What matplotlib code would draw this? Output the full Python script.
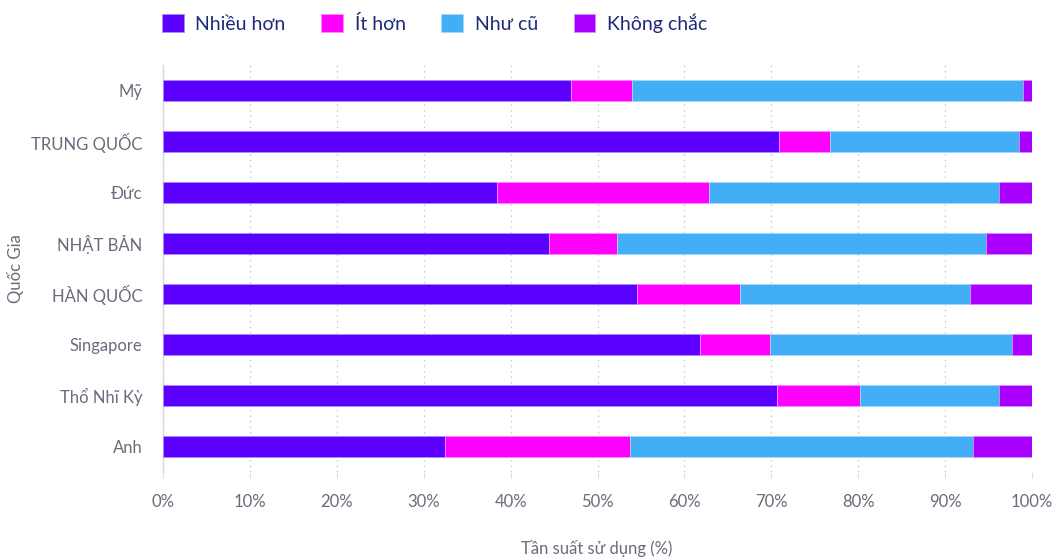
import matplotlib
matplotlib.use("Agg")
import matplotlib.pyplot as plt
import numpy as np

# === Dữ liệu ===
countries = ["Mỹ", "TRUNG QUỐC", "Đức", "NHẬT BẢN", "HÀN QUỐC", "Singapore", "Thổ Nhĩ Kỳ", "Anh"]
series_names = ["Nhiều hơn", "Ít hơn", "Như cũ", "Không chắc"]
nhieu_hon = [47.0, 70.9, 38.4, 44.4, 54.5, 61.8, 70.7, 32.5]
it_hon = [7.0, 5.85, 24.4, 7.8, 11.9, 8.1, 9.5, 21.2]
nhu_cu = [45.0, 21.75, 33.4, 42.5, 26.5, 27.8, 16.0, 39.5]
khong_chac = [1.0, 1.5, 3.8, 5.3, 7.1, 2.3, 3.8, 6.8]
x_ticks = list(range(0, 101, 10))

colors = ["#5b00ff", "#ff00ff", "#42aef5", "#aa00ff"]
edge_colors = ["#a98cff", "#ff8cff", "#a8d8fa", "#d68cff"]
text_grey = "#6b6b7b"

plt.rcParams["font.family"] = ["Lato", "DejaVu Sans"]

fig = plt.figure(figsize=(10.56, 5.6), dpi=100)
ax = fig.add_axes([0.1544, 0.157, 0.8229, 0.727])

y = np.arange(len(countries))
left = np.zeros(len(countries))
handles = []
for vals, name, c, ec in zip([nhieu_hon, it_hon, nhu_cu, khong_chac], series_names, colors, edge_colors):
    vals = np.array(vals)
    b = ax.barh(y, vals, left=left, height=0.41, color=c, edgecolor=ec, linewidth=0.6, label=name, zorder=3)
    handles.append(b)
    left += vals

ax.set_ylim(len(countries) - 0.5, -0.5)
ax.set_xlim(0, 100)
ax.set_yticks(y)
ax.set_yticklabels(countries, fontsize=12, color=text_grey)
ax.set_xticks(x_ticks)
ax.set_xticklabels([f"{t}%" for t in x_ticks], fontsize=12, color=text_grey)

# lưới dọc chấm
ax.grid(axis="x", linestyle=(0, (1, 3)), color="#c8c8c8", linewidth=1, zorder=0)
for s in ["top", "right", "bottom"]:
    ax.spines[s].set_visible(False)
ax.spines["left"].set_color("#d8d8de")
ax.spines["left"].set_linewidth(1)
ax.tick_params(axis="y", length=0, pad=15)
ax.tick_params(axis="x", length=4, color="#e0e0e0", pad=12)

# nhãn trục đặt theo toạ độ figure
fig.text(0.565, 0.02, "Tần suất sử dụng (%)", fontsize=12, color=text_grey, ha="center", va="center")
fig.text(0.015, 0.52, "Quốc Gia", fontsize=12, color=text_grey, ha="center", va="center", rotation=90)

# chú giải phía trên
leg = fig.legend(handles=handles, labels=series_names, loc="upper left",
                 bbox_to_anchor=(0.137, 1.008), ncol=4, frameon=False,
                 fontsize=14, handlelength=1.1, handleheight=1.1,
                 columnspacing=1.85, handletextpad=0.6)
for t in leg.get_texts():
    t.set_color("#1d2a7a")

fig.savefig("out.png", dpi=100, facecolor="white")
